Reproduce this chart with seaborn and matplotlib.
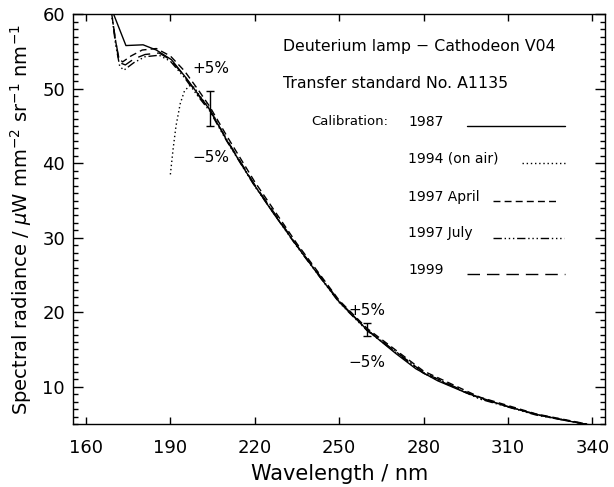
import pandas as pd
import seaborn as sns
import matplotlib.pyplot as plt
from matplotlib.ticker import MultipleLocator

# values (wavelength in nm, radiance)
wl_1987 = [168.8, 174.2, 180.3, 185, 190.4, 195.7, 200, 204, 210, 215.8, 220,
           226.4, 235, 243.6, 250, 260, 270, 277.3, 285, 295, 309.2, 320, 330,
           338, 342]
rad_1987 = [61.0, 55.8, 55.9, 55.2, 53.9, 51.4, 49.2, 47.2, 43.1, 39.5, 37.0,
            33.4, 28.9, 24.5, 21.4, 17.6, 14.5, 12.4, 10.8, 9.2, 7.4, 6.3, 5.5,
            4.95, 4.7]

wl_1994 = [190, 191, 192, 193.5, 195, 196.8, 198.5, 200, 204, 210, 220, 235,
           250, 260, 280, 300, 320, 338]
rad_1994 = [38.5, 42.0, 45.0, 48.0, 49.7, 50.4, 50.2, 49.3, 47.3, 43.2, 37.0,
            28.9, 21.4, 17.6, 11.9, 8.4, 6.3, 4.95]

wl_apr97 = [168.8, 170.3, 171.5, 173, 176, 180, 185, 190, 195, 200, 204, 210,
            220, 235, 250, 260, 280, 300, 320, 338]
rad_apr97 = [61.0, 57.0, 54.2, 53.6, 54.4, 55.2, 55.4, 54.4, 52.4, 49.8, 47.6,
             43.7, 37.5, 29.2, 21.6, 17.8, 12.1, 8.6, 6.35, 5.0]

wl_jul97 = [168.8, 170.5, 172, 173.5, 177, 181, 186, 190, 195, 200, 204, 210,
            220, 235, 250, 260, 280, 300, 320, 338]
rad_jul97 = [61.0, 56.0, 53.0, 52.5, 53.5, 54.3, 54.5, 53.7, 51.5, 48.9, 47.0,
             43.0, 36.9, 28.8, 21.3, 17.5, 11.8, 8.35, 6.2, 4.95]

wl_1999 = [168.8, 170.5, 172, 174, 177, 181, 186, 190, 195, 200, 204, 210,
           220, 235, 250, 260, 280, 300, 320, 338]
rad_1999 = [61.0, 56.5, 53.5, 53.2, 54.0, 54.6, 54.8, 53.9, 51.7, 49.1, 47.2,
            43.2, 37.1, 28.95, 21.5, 17.6, 11.9, 8.45, 6.25, 4.95]

calibrations = ['1987', '1994 (on air)', '1997 April', '1997 July', '1999']
err_wl = [204, 260]
err_rad = [47.3, 17.7]
xticks = [160, 190, 220, 250, 280, 310, 340]

series = {
    '1987': (wl_1987, rad_1987),
    '1994 (on air)': (wl_1994, rad_1994),
    '1997 April': (wl_apr97, rad_apr97),
    '1997 July': (wl_jul97, rad_jul97),
    '1999': (wl_1999, rad_1999),
}
df = pd.concat([
    pd.DataFrame({'wavelength': w, 'radiance': r, 'calibration': k})
    for k, (w, r) in series.items()
])

dash_map = {
    '1987': '',
    '1994 (on air)': (1, 2),
    '1997 April': (5, 3),
    '1997 July': (6, 2, 1, 2, 1, 2, 1, 2),
    '1999': (9, 5),
}

sns.set_style('ticks')
plt.rcParams['font.family'] = ['DejaVu Sans']
plt.rcParams.update({'text.color': 'black', 'axes.labelcolor': 'black',
                     'xtick.color': 'black', 'ytick.color': 'black',
                     'axes.edgecolor': 'black'})

fig = plt.figure(figsize=(6.14, 4.87), dpi=100)
ax = fig.add_axes([0.1194, 0.1294, 0.866, 0.8413])

sns.lineplot(data=df, x='wavelength', y='radiance', style='calibration',
             dashes=dash_map, color='black', lw=1, estimator=None, sort=False,
             legend=False, ax=ax)

ax.errorbar(err_wl, err_rad, yerr=[0.05 * r for r in err_rad], fmt='none',
            ecolor='black', elinewidth=1, capsize=3, capthick=1)
ax.text(204.3, 52.7, '+5%', ha='center', va='center', fontsize=11)
ax.text(204.3, 40.8, '\u22125%', ha='center', va='center', fontsize=11)
ax.text(260, 20.2, '+5%', ha='center', va='center', fontsize=11)
ax.text(260, 13.2, '\u22125%', ha='center', va='center', fontsize=11)

# legend block drawn by hand like the original
ax.text(0.395, 0.921, 'Deuterium lamp \u2212 Cathodeon V04',
        transform=ax.transAxes, va='center', fontsize=11.3)
ax.text(0.395, 0.832, 'Transfer standard No. A1135',
        transform=ax.transAxes, va='center', fontsize=11.3)
ax.text(0.448, 0.738, 'Calibration:', transform=ax.transAxes, va='center',
        fontsize=9.5)
label_y = [0.738, 0.649, 0.555, 0.465, 0.376]
line_x = [(0.740, 0.925), (0.844, 0.925), (0.790, 0.912), (0.790, 0.922),
          (0.740, 0.925)]
for cal, ty, (x0, x1) in zip(calibrations, label_y, line_x):
    ax.text(0.630, ty, cal, transform=ax.transAxes, va='center', fontsize=10)
    ls = '-' if dash_map[cal] == '' else (0, dash_map[cal])
    ax.plot([x0, x1], [ty - 0.011, ty - 0.011], transform=ax.transAxes,
            color='black', lw=1, linestyle=ls)

ax.set_xlim(155.5, 344.5)
ax.set_ylim(5, 60)
ax.set_xticks(xticks)
ax.yaxis.set_major_locator(MultipleLocator(10))
ax.yaxis.set_minor_locator(MultipleLocator(1))
ax.tick_params(which='both', direction='in', top=True, right=True,
               width=1, labelsize=13)
ax.tick_params(axis='x', length=5, pad=11)
ax.tick_params(axis='y', which='major', length=7, pad=6)
ax.tick_params(axis='y', which='minor', length=3.5)
for sp in ax.spines.values():
    sp.set_linewidth(1)

ax.set_xlabel('Wavelength / nm', fontsize=15, labelpad=5)
ax.set_ylabel(r'Spectral radiance / $\mu$W mm$^{-2}$ sr$^{-1}$ nm$^{-1}$',
              fontsize=14, labelpad=6)

fig.savefig('out.png', dpi=100)
